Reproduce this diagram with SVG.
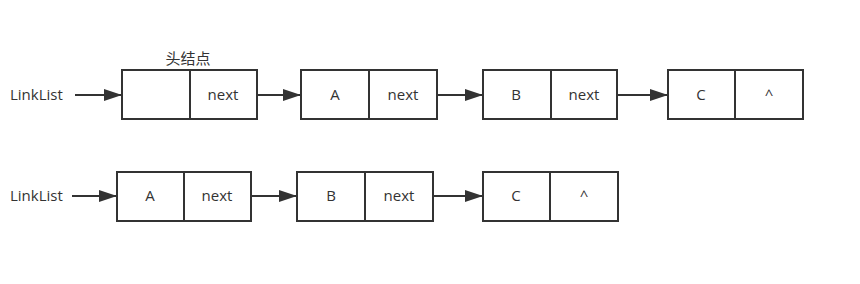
<svg xmlns="http://www.w3.org/2000/svg" width="860" height="284" viewBox="0 0 860 284">
<defs>
<marker id="ah" markerWidth="18" markerHeight="12" refX="18" refY="6" orient="auto" markerUnits="userSpaceOnUse">
<path d="M0,0 L18,6 L0,12 Z" fill="#333"/>
</marker>
</defs>
<style>
.box{fill:#fff;stroke:#333;stroke-width:2}
.div{stroke:#333;stroke-width:2}
.t{font-family:"Open Sans","Noto Sans","Noto Sans CJK SC",sans-serif;font-size:15px;fill:#333;text-anchor:middle;dominant-baseline:central}
.lbl{font-family:"Open Sans","Noto Sans","Noto Sans CJK SC",sans-serif;font-size:15px;fill:#333;dominant-baseline:central}
.c{stroke:#333;stroke-width:2;fill:none;marker-end:url(#ah)}
</style>
<rect width="860" height="284" fill="#fff"/>
<g id="labels">
<text class="lbl" x="10" y="94">LinkList</text>
<text class="lbl" x="10" y="195">LinkList</text>
<text class="t" x="188" y="57" style="font-family:'Noto Sans CJK SC',sans-serif">头结点</text>
</g>
<g id="connectors">
<line class="c" x1="75" y1="95" x2="122" y2="95"/>
<line class="c" x1="257" y1="95" x2="301" y2="95"/>
<line class="c" x1="437" y1="95" x2="483" y2="95"/>
<line class="c" x1="617" y1="95" x2="668" y2="95"/>
<line class="c" x1="72" y1="196" x2="117" y2="196"/>
<line class="c" x1="251" y1="196" x2="297" y2="196"/>
<line class="c" x1="433" y1="196" x2="483" y2="196"/>
</g>
<g id="head">
<rect class="box" x="122" y="70" width="135" height="49"/>
<line class="div" x1="190" y1="70" x2="190" y2="119"/>
<text class="t" x="223" y="94">next</text>
</g>
<g id="nodeA1">
<rect class="box" x="301" y="70" width="136" height="49"/>
<line class="div" x1="369" y1="70" x2="369" y2="119"/>
<text class="t" x="335" y="94">A</text>
<text class="t" x="403" y="94">next</text>
</g>
<g id="nodeB1">
<rect class="box" x="483" y="70" width="134" height="49"/>
<line class="div" x1="551" y1="70" x2="551" y2="119"/>
<text class="t" x="516" y="94">B</text>
<text class="t" x="584" y="94">next</text>
</g>
<g id="nodeC1">
<rect class="box" x="668" y="70" width="135" height="49"/>
<line class="div" x1="735" y1="70" x2="735" y2="119"/>
<text class="t" x="701" y="94">C</text>
<text class="t" x="769" y="94">^</text>
</g>
<g id="nodeA2">
<rect class="box" x="117" y="172" width="134" height="49"/>
<line class="div" x1="184" y1="172" x2="184" y2="221"/>
<text class="t" x="150" y="195">A</text>
<text class="t" x="217" y="195">next</text>
</g>
<g id="nodeB2">
<rect class="box" x="297" y="172" width="136" height="49"/>
<line class="div" x1="365" y1="172" x2="365" y2="221"/>
<text class="t" x="331" y="195">B</text>
<text class="t" x="399" y="195">next</text>
</g>
<g id="nodeC2">
<rect class="box" x="483" y="172" width="135" height="49"/>
<line class="div" x1="550" y1="172" x2="550" y2="221"/>
<text class="t" x="516" y="195">C</text>
<text class="t" x="584" y="195">^</text>
</g>
</svg>
